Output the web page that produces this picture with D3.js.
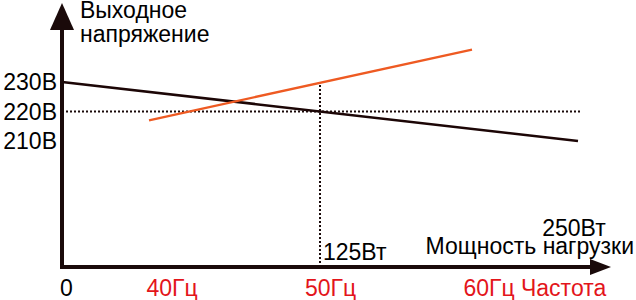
<!DOCTYPE html>
<html>
<head>
<meta charset="utf-8">
<script src="https://cdn.jsdelivr.net/npm/d3@7"></script>
<style>
  body { margin: 0; background: #fff; }
  text { font-family: "Liberation Sans", Arial, sans-serif; font-size: 23px; }
</style>
</head>
<body>
<svg id="plot"></svg>
<script>
// voltage ticks (V) and their labels
var voltTicks = [230, 220, 210];
var voltLabels = ['230В', '220В', '210В'];

// frequency ticks (Hz)
var freqTicks = [40, 50, 60];
var freqLabels = ['40Гц', '50Гц', '60Гц'];

// output voltage vs load power (W -> V)
var powerW = [0, 250];
var powerV = [230, 210];

// output voltage vs frequency (Hz -> V)
var freqHz = [40, 60];
var freqV = [217, 241];

// reference point: nominal voltage at half load
var refPower = 125, refVolt = 220, refTop = 229;

var width = 636, height = 300;
var axisX = 62, axisY = 267;

var svg = d3.select('#plot').attr('width', width).attr('height', height);

var xP = d3.scaleLinear().domain([0, 250]).range([axisX, 578]);
var xF = d3.scaleLinear().domain([40, 60]).range([149, 472]);
// tick labels of the frequency axis sit centred a bit to the right
var xFl = d3.scaleLinear().domain([40, 60]).range([172, 489]);
var y = d3.scaleLinear().domain([210, 230]).range([141, 82]);

// dotted guides
svg.append('line')
    .attr('x1', axisX).attr('x2', xP(250) + 2)
    .attr('y1', y(refVolt)).attr('y2', y(refVolt))
    .attr('stroke', '#1a0a0a').attr('stroke-width', 2)
    .attr('stroke-dasharray', '2,2');

svg.append('line')
    .attr('x1', xP(refPower)).attr('x2', xP(refPower))
    .attr('y1', y(refTop)).attr('y2', axisY)
    .attr('stroke', '#1a0a0a').attr('stroke-width', 2)
    .attr('stroke-dasharray', '2,2');

// lines
var powerData = powerW.map(function(p, i) { return {x: xP(p), y: y(powerV[i])}; });
var freqData = freqHz.map(function(f, i) { return {x: xF(f), y: y(freqV[i])}; });

var line = d3.line().x(function(d) { return d.x; }).y(function(d) { return d.y; });

svg.append('path').datum(powerData)
    .attr('d', line).attr('fill', 'none')
    .attr('stroke', '#1c0606').attr('stroke-width', 2.6);

svg.append('path').datum(freqData)
    .attr('d', line).attr('fill', 'none')
    .attr('stroke', '#ee5a22').attr('stroke-width', 2.4);

// axes with arrows
svg.append('line')
    .attr('x1', axisX).attr('x2', axisX)
    .attr('y1', axisY + 2).attr('y2', 28)
    .attr('stroke', '#1a0a0a').attr('stroke-width', 4);
svg.append('path')
    .attr('d', d3.line()([[axisX, 3], [axisX - 12, 30], [axisX + 12, 30]]) + 'Z')
    .attr('fill', '#1a0a0a');

svg.append('line')
    .attr('x1', axisX - 2).attr('x2', 592)
    .attr('y1', axisY).attr('y2', axisY)
    .attr('stroke', '#1a0a0a').attr('stroke-width', 4);
svg.append('path')
    .attr('d', d3.line()([[611, axisY], [590, axisY - 8], [590, axisY + 8]]) + 'Z')
    .attr('fill', '#1a0a0a');

// voltage tick labels
svg.selectAll('.vlabel').data(voltTicks).enter().append('text')
    .attr('class', 'vlabel')
    .attr('x', 57).attr('y', function(d) { return y(d) + 8; })
    .attr('text-anchor', 'end')
    .text(function(d, i) { return voltLabels[i]; });

// frequency tick labels
svg.selectAll('.flabel').data(freqTicks).enter().append('text')
    .attr('class', 'flabel')
    .attr('x', function(d) { return xFl(d); }).attr('y', 296)
    .attr('text-anchor', 'middle')
    .attr('fill', '#e3151b')
    .text(function(d, i) { return freqLabels[i]; });

svg.append('text').attr('x', 521).attr('y', 296).attr('fill', '#e3151b').text('Частота');
svg.append('text').attr('x', 60).attr('y', 296).text('0');

// power labels
svg.append('text').attr('x', xP(refPower) + 3).attr('y', 260).text('125Вт');
svg.append('text').attr('x', xP(250) - 4).attr('y', 236).attr('text-anchor', 'middle').text('250Вт');
svg.append('text').attr('x', 634).attr('y', 254).attr('text-anchor', 'end').text('Мощность нагрузки');

// y axis title
svg.append('text').attr('x', 80).attr('y', 18).text('Выходное');
svg.append('text').attr('x', 80).attr('y', 42).text('напряжение');
</script>
</body>
</html>
